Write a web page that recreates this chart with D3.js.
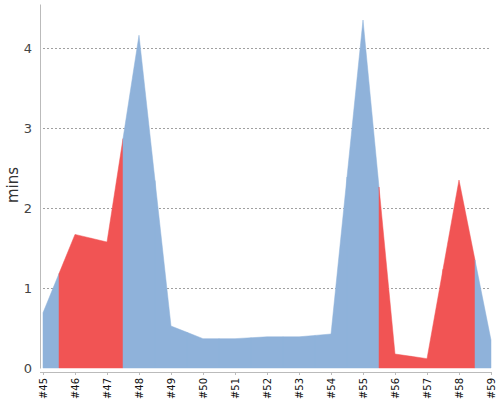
<!DOCTYPE html>
<html lang="en">
<head>
<meta charset="UTF-8">
<title>Build times</title>
<style>
  body { margin: 0; background: #fff; }
  svg text { font-family: 'DejaVu Sans', sans-serif; }
  .grid line { stroke: #888; stroke-dasharray: 2,2; stroke-width: 0.8; }
</style>
</head>
<body>
<div id="chart"></div>
<script src="https://d3js.org/d3.v7.min.js"></script>
<script>
// builds, duration in minutes, and status of each build
var builds = ["#45", "#46", "#47", "#48", "#49", "#50", "#51", "#52", "#53", "#54", "#55", "#56", "#57", "#58", "#59"];
var minutes = [0.69, 1.67, 1.575, 4.16, 0.525, 0.367, 0.367, 0.39, 0.39, 0.425, 4.35, 0.175, 0.117, 2.35, 0.35];
var failed = [false, true, true, false, false, false, false, false, false, false, false, true, true, true, false];
var yTicks = [0, 1, 2, 3, 4];

var width = 500, height = 400;
var svg = d3.select("#chart").append("svg")
    .attr("width", width)
    .attr("height", height);

var x = d3.scaleLinear().domain([0, builds.length - 1]).range([43, 491]);
var y = d3.scaleLinear().domain([0, 4.55]).range([368, 4]);

// gridlines
svg.append("g").attr("class", "grid")
    .selectAll("line")
    .data(yTicks.filter(function(d) { return d > 0; }))
    .enter().append("line")
    .attr("x1", x(0)).attr("x2", x(builds.length - 1))
    .attr("y1", function(d) { return Math.round(y(d)) + 0.5; })
    .attr("y2", function(d) { return Math.round(y(d)) + 0.5; });

// each build owns the half step on either side of it
var segments = minutes.map(function(v, i) {
  var pts = [];
  if (i > 0) pts.push([i - 0.5, (minutes[i - 1] + v) / 2]);
  pts.push([i, v]);
  if (i < minutes.length - 1) pts.push([i + 0.5, (minutes[i + 1] + v) / 2]);
  return { pts: pts, failed: failed[i] };
});

var area = d3.area()
    .x(function(d) { return x(d[0]); })
    .y0(y(0))
    .y1(function(d) { return y(d[1]); });

svg.append("g")
    .selectAll("path")
    .data(segments)
    .enter().append("path")
    .attr("d", function(d) { return area(d.pts); })
    .attr("fill", function(d) { return d.failed ? "#f15454" : "#8fb2da"; })
    .attr("stroke", function(d) { return d.failed ? "#f15454" : "#8fb2da"; })
    .attr("stroke-width", 0.5);

// y axis
var yAxis = svg.append("g").attr("transform", "translate(40,0)")
    .call(d3.axisLeft(y).tickValues(yTicks).tickFormat(d3.format("d"))
      .tickSize(0).tickPadding(8));
yAxis.select(".domain").attr("stroke", "#bbb");
yAxis.selectAll("text").attr("fill", "#444").style("font-size", "13px");

// x axis
var xAxis = svg.append("g").attr("transform", "translate(0,372)")
    .call(d3.axisBottom(x).tickValues(d3.range(builds.length))
      .tickFormat(function(i) { return builds[i]; })
      .tickSizeInner(3).tickSizeOuter(0).tickPadding(4));
xAxis.select(".domain").attr("stroke", "#bbb").attr("d", "M40,0.5H491");
xAxis.selectAll(".tick line").attr("stroke", "#bbb");
xAxis.selectAll("text")
    .attr("fill", "#111")
    .style("font-size", "10px")
    .attr("transform", "rotate(-90)")
    .attr("text-anchor", "end")
    .attr("x", -6)
    .attr("y", 0)
    .attr("dy", "0.35em");

svg.append("text")
    .attr("transform", "translate(18,185) rotate(-90)")
    .attr("text-anchor", "middle")
    .attr("fill", "#333")
    .style("font-size", "15px")
    .text("mins");
</script>
</body>
</html>
